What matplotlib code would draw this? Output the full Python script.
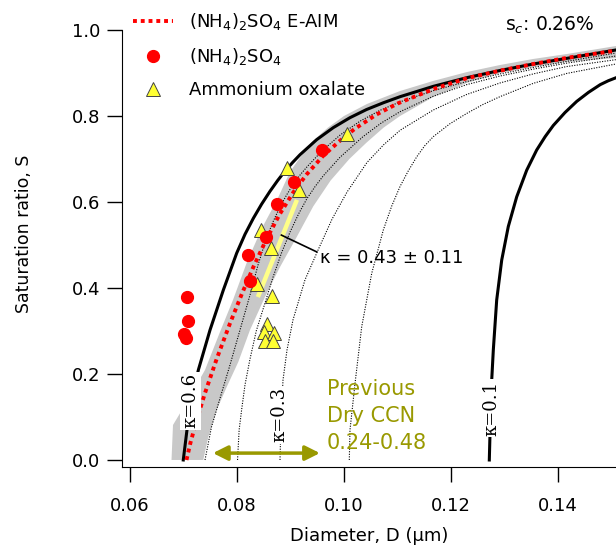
import matplotlib
matplotlib.use("Agg")
import matplotlib.pyplot as plt
from matplotlib.lines import Line2D

# kappa-Koehler curves at s_c = 0.26 %  (D in um, S)
k06_x = [0.06996, 0.0710, 0.07277, 0.07495, 0.07744, 0.07994, 0.0815, 0.08305, 0.0846, 0.08617, 0.0876,
         0.08897, 0.0904, 0.09178, 0.0949, 0.0980, 0.1011, 0.1042, 0.1074, 0.1105, 0.1167, 0.1229,
         0.1292, 0.1354, 0.1416, 0.1508]
k06_y = [0.0, 0.105, 0.209, 0.302, 0.395, 0.481, 0.525, 0.562, 0.595, 0.625, 0.650,
         0.672, 0.692, 0.710, 0.745, 0.773, 0.796, 0.815, 0.831, 0.845, 0.869, 0.889,
         0.906, 0.921, 0.934, 0.9535]

k05_x = [0.07402, 0.07523, 0.07701, 0.07869, 0.08056, 0.08243, 0.08393, 0.0854, 0.0867, 0.0880,
         0.0893, 0.0905, 0.0918, 0.0931, 0.0959, 0.0993, 0.1030, 0.1067, 0.1105, 0.1167, 0.1229,
         0.1292, 0.1354, 0.1416, 0.1508]
k05_y = [0.0, 0.0767, 0.1512, 0.2209, 0.3023, 0.3837, 0.4535, 0.512, 0.553, 0.588,
         0.617, 0.641, 0.663, 0.682, 0.719, 0.756, 0.788, 0.813, 0.833, 0.859, 0.880,
         0.898, 0.913, 0.927, 0.9465]

k04_x = [0.0801, 0.0804, 0.0809, 0.0815, 0.0824, 0.0836, 0.08523, 0.08673, 0.0883, 0.08991, 0.0915,
         0.09303, 0.0946, 0.09613, 0.09925, 0.10355, 0.1070, 0.11047, 0.11669, 0.12294, 0.12916,
         0.13538, 0.14163, 0.15084]
k04_y = [0.0, 0.07, 0.12, 0.175, 0.233, 0.300, 0.365, 0.425, 0.481, 0.530, 0.572,
         0.607, 0.636, 0.661, 0.704, 0.752, 0.784, 0.810, 0.846, 0.873, 0.893,
         0.909, 0.923, 0.9395]

k03_x = [0.08804, 0.08823, 0.08860, 0.08935, 0.09047, 0.09271, 0.09514, 0.09776, 0.10056, 0.1043,
         0.1074, 0.1105, 0.1167, 0.1229, 0.1292, 0.1354, 0.1416, 0.1508]
k03_y = [0.0, 0.093, 0.186, 0.256, 0.326, 0.419, 0.488, 0.560, 0.623, 0.692,
         0.733, 0.767, 0.814, 0.850, 0.877, 0.898, 0.915, 0.931]

k02_x = [0.10099, 0.10112, 0.10206, 0.10331, 0.10518, 0.10735, 0.1089, 0.11047, 0.1120, 0.11359,
         0.1151, 0.11669, 0.1198, 0.12294, 0.1260, 0.12916, 0.13538, 0.14163, 0.15084]
k02_y = [0.0, 0.07, 0.178, 0.310, 0.434, 0.535, 0.590, 0.636, 0.672, 0.705,
         0.731, 0.752, 0.782, 0.806, 0.827, 0.845, 0.876, 0.899, 0.921]

k01_x = [0.12716, 0.12735, 0.12761, 0.12791, 0.12854, 0.12948, 0.13071, 0.13228, 0.13415, 0.13602,
         0.1376, 0.13912, 0.1413, 0.1435, 0.1457, 0.1479, 0.1494, 0.15084]
k01_y = [0.0, 0.09, 0.186, 0.256, 0.372, 0.465, 0.543, 0.612, 0.674, 0.721,
         0.752, 0.778, 0.808, 0.834, 0.855, 0.873, 0.882, 0.889]

# E-AIM ammonium sulfate and its uncertainty band
aim_x = [0.07056, 0.0713, 0.0724, 0.0740, 0.0762, 0.0787, 0.0809, 0.0831, 0.0856, 0.0880, 0.0905,
         0.0930, 0.0960, 0.0990, 0.1020, 0.1060, 0.1100, 0.1170, 0.1230, 0.1290, 0.1354, 0.1420, 0.1508]
aim_y = [0.0, 0.04, 0.09, 0.155, 0.235, 0.318, 0.386, 0.450, 0.516, 0.572, 0.622,
         0.664, 0.706, 0.740, 0.770, 0.803, 0.829, 0.864, 0.888, 0.905, 0.921, 0.936, 0.952]

band_up_x = [0.06776, 0.06804, 0.07084, 0.07402, 0.07682, 0.07925, 0.08187, 0.08467, 0.08748, 0.0899,
             0.0913, 0.0940, 0.0970, 0.1000, 0.1043, 0.11047, 0.11664, 0.12299, 0.12916, 0.13533,
             0.14168, 0.15084]
band_up_y = [0.0, 0.0814, 0.1395, 0.2093, 0.2977, 0.3721, 0.4605, 0.5395, 0.6047, 0.670,
             0.695, 0.740, 0.773, 0.800, 0.828, 0.8581, 0.8814, 0.9023, 0.9186, 0.9326,
             0.9442, 0.9628]
band_lo_x = [0.07370, 0.07464, 0.07621, 0.07808, 0.08024, 0.08243, 0.08523, 0.08804, 0.09116, 0.09426,
             0.0975, 0.1010, 0.1042, 0.1074, 0.11047, 0.11669, 0.12294, 0.12916, 0.13538, 0.14162,
             0.15084]
band_lo_y = [0.0, 0.0535, 0.1163, 0.1698, 0.2279, 0.3023, 0.3791, 0.4488, 0.5186, 0.590,
             0.650, 0.700, 0.738, 0.773, 0.800, 0.8442, 0.8767, 0.9000, 0.9140, 0.9256,
             0.9349]

# measurements
as_x = [0.0958, 0.0907, 0.0874, 0.0854, 0.0820, 0.0824, 0.0706, 0.0708, 0.0701, 0.0705]
as_y = [0.722, 0.647, 0.595, 0.518, 0.477, 0.416, 0.380, 0.324, 0.294, 0.283]
ox_x = [0.1005, 0.0893, 0.0915, 0.0845, 0.0864, 0.0838, 0.0865, 0.0857, 0.0851, 0.0869, 0.0852, 0.0868]
ox_y = [0.757, 0.678, 0.628, 0.535, 0.492, 0.410, 0.381, 0.317, 0.298, 0.295, 0.277, 0.277]

# fitted kappa range for the oxalate
fit_x = [0.0839, 0.0912]
fit_y = [0.379, 0.605]

prev_ccn = [0.0755, 0.0955]

olive = '#999900'

fig = plt.figure(figsize=(6.16, 5.47), dpi=100)
ax = fig.add_axes([0.198, 0.1463, 0.802, 0.8537])

ax.fill(band_up_x + band_lo_x[::-1], band_up_y + band_lo_y[::-1],
        color='#c8c8c8', lw=0, zorder=1)

for xs, ys in [(k05_x, k05_y), (k04_x, k04_y), (k03_x, k03_y), (k02_x, k02_y)]:
    ax.plot(xs, ys, color='k', lw=0.8, ls=(0, (1, 1.3)), zorder=2)
ax.plot(k06_x, k06_y, color='k', lw=2.2, zorder=2)
ax.plot(k01_x, k01_y, color='k', lw=2.2, zorder=2)

ax.plot(fit_x, fit_y, color='#ffff88', lw=3.2, solid_capstyle='butt', zorder=3)
ax.plot(aim_x, aim_y, color='red', lw=2.8, ls=(0, (1, 1)), zorder=3)

ax.plot(ox_x, ox_y, ls='none', marker='^', ms=10, mfc='#ffff33', mec='#444444', mew=0.7, zorder=4)
ax.plot(as_x, as_y, ls='none', marker='o', ms=8.5, mfc='red', mec='red', zorder=5)

# kappa labels on the curves
kfont = dict(family='DejaVu Serif', fontsize=13, rotation=90, ha='center', va='center', zorder=6,
             bbox=dict(facecolor='white', edgecolor='none', pad=1))
ax.text(0.0713, 0.138, 'κ=0.6', **kfont)
ax.text(0.0880, 0.105, 'κ=0.3', **kfont)
ax.text(0.1275, 0.121, 'κ=0.1', **kfont)

ax.plot([0.0883, 0.0949], [0.523, 0.484], color='k', lw=1.2, zorder=6)
ax.text(0.0955, 0.470, 'κ = 0.43 ± 0.11', fontsize=13, ha='left', va='center')

ax.annotate('', xy=(prev_ccn[1], 0.016), xytext=(prev_ccn[0], 0.016),
            arrowprops=dict(arrowstyle='<|-|>', color=olive, lw=2.5, mutation_scale=22,
                            shrinkA=0, shrinkB=0))
ax.text(0.0968, 0.102, 'Previous\nDry CCN\n0.24-0.48', color=olive, fontsize=15,
        ha='left', va='center', linespacing=1.45)

ax.text(0.1301, 1.0116, 's$_c$: 0.26%', fontsize=13.5, ha='left', va='center')

handles = [Line2D([], [], color='red', lw=2.8, ls=(0, (1, 1))),
           Line2D([], [], ls='none', marker='o', ms=8.5, mfc='red', mec='red'),
           Line2D([], [], ls='none', marker='^', ms=10, mfc='#ffff33', mec='#444444', mew=0.7)]
labels = ['(NH$_4$)$_2$SO$_4$ E-AIM', '(NH$_4$)$_2$SO$_4$', 'Ammonium oxalate']
fig.legend(handles, labels, loc='upper left', bbox_to_anchor=(133 / 616, 1 - 11 / 547),
           frameon=False, fontsize=13, handlelength=2.2, handletextpad=0.9,
           labelspacing=0.78, borderpad=0, borderaxespad=0)

ax.set_xlim(0.0585, 0.15084)
ax.set_ylim(-0.01628, 1.0698)
ax.set_xticks([0.06, 0.08, 0.10, 0.12, 0.14])
ax.set_xticklabels(['0.06', '0.08', '0.10', '0.12', '0.14'])
ax.set_yticks([0.0, 0.2, 0.4, 0.6, 0.8, 1.0])
ax.set_yticklabels(['0.0', '0.2', '0.4', '0.6', '0.8', '1.0'])
ax.tick_params(direction='out', length=10.5, width=1, labelsize=13)
ax.tick_params(axis='x', pad=11)
ax.tick_params(axis='y', pad=5)
ax.spines['top'].set_visible(False)
ax.spines['right'].set_visible(False)
ax.spines['left'].set_bounds(-0.01628, 1.0)
ax.set_xlabel('Diameter, D (μm)', fontsize=13, labelpad=9)
ax.set_ylabel('Saturation ratio, S', fontsize=12.5, labelpad=28)

fig.savefig('out.png', dpi=100)
